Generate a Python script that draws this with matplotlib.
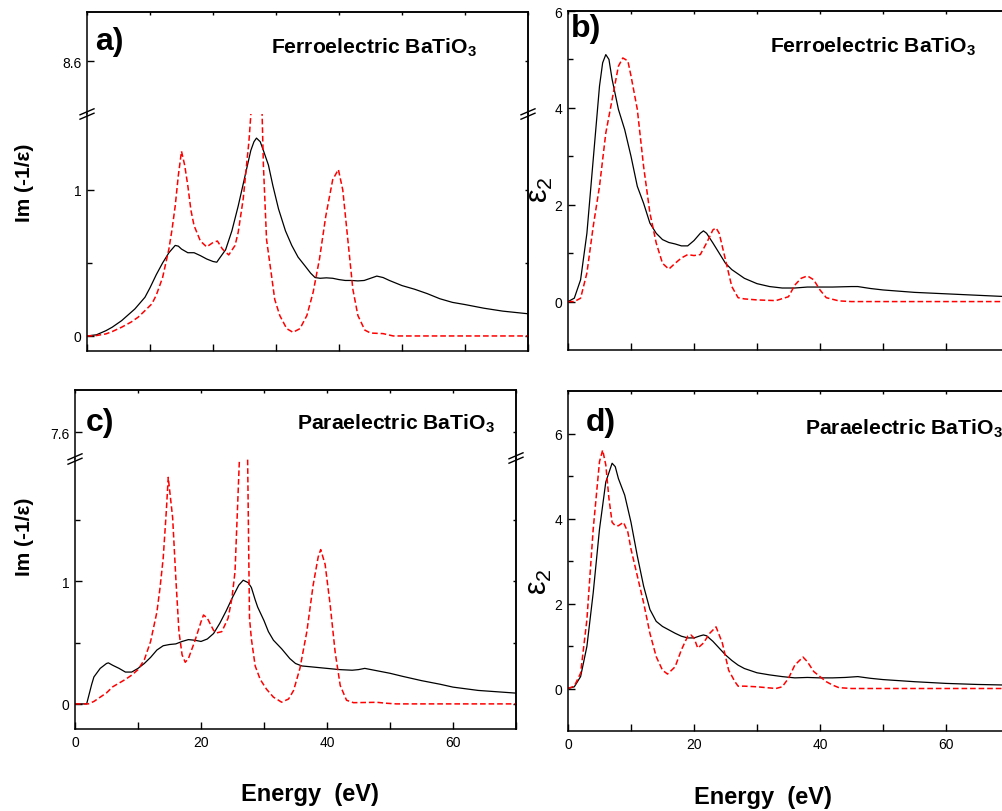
import matplotlib
matplotlib.use("Agg")
import matplotlib.pyplot as plt
from matplotlib.lines import Line2D
from matplotlib.ticker import MultipleLocator, FixedLocator

plt.rcParams['font.family'] = ['Liberation Sans', 'DejaVu Sans']
plt.rcParams['mathtext.fontset'] = 'custom'
plt.rcParams['mathtext.rm'] = 'Liberation Sans'
plt.rcParams['mathtext.bf'] = 'Liberation Sans:bold'
plt.rcParams['mathtext.it'] = 'Liberation Sans:italic'

W, H = 1003, 812

# ---- a) ferroelectric, energy loss Im(-1/eps)
a_blk_e = [0, 1.5, 3, 4, 5.5, 7.6, 9.2, 10, 11, 12, 13, 14, 14.5, 15, 16, 17, 18, 19, 20, 20.6, 21,
           22, 23, 24, 25, 26, 26.5, 26.9, 27.5, 28, 28.8, 29.5, 30.4, 31.5, 32.5, 33.5, 34.6, 35.5,
           36.2, 37, 38, 39, 40, 41, 42, 43, 44, 45, 46, 47, 48, 50, 52, 54, 56, 58, 60, 63, 66, 70]
a_blk_y = [0, 0.008, 0.036, 0.06, 0.105, 0.185, 0.265, 0.33, 0.42, 0.50, 0.57, 0.62, 0.615, 0.595,
           0.57, 0.57, 0.55, 0.527, 0.51, 0.505, 0.53, 0.59, 0.72, 0.89, 1.08, 1.27, 1.33, 1.355, 1.33,
           1.27, 1.17, 1.03, 0.87, 0.72, 0.62, 0.54, 0.48, 0.43, 0.40, 0.395, 0.398, 0.395, 0.386,
           0.38, 0.38, 0.377, 0.38, 0.395, 0.41, 0.40, 0.38, 0.345, 0.32, 0.29, 0.255, 0.23, 0.215,
           0.19, 0.17, 0.152]
a_red_e = [0, 1.5, 3, 4, 5.5, 7, 8.1, 9, 10.3, 11, 12, 13, 13.5, 14, 14.5, 15, 15.5, 16, 16.5, 17,
           18, 19, 20, 20.7, 21.5, 22.5, 23.5, 24, 24.8, 25.3, 25.7, 26.0, 26.4, 27.0, 27.4, 27.8,
           28.0, 28.5, 29.3, 29.8, 30.6, 31.7, 32.7, 33.8, 34.9, 35.9, 36.9, 37.9, 39.0, 39.9, 40.6,
           41.4, 42.2, 43.0, 44.1, 45.0, 47.0, 48.6, 70]
a_red_y = [0, 0.003, 0.014, 0.03, 0.06, 0.095, 0.128, 0.165, 0.22, 0.28, 0.40, 0.595, 0.73, 0.89,
           1.10, 1.265, 1.17, 1.03, 0.86, 0.755, 0.65, 0.61, 0.64, 0.65, 0.595, 0.555, 0.62, 0.71,
           0.94, 1.16, 1.33, 1.51, 1.9, 2.6, 2.2, 1.51, 1.17, 0.66, 0.41, 0.25, 0.14, 0.05, 0.025,
           0.05, 0.14, 0.30, 0.527, 0.82, 1.07, 1.14, 1.0, 0.66, 0.32, 0.14, 0.04, 0.02, 0.016, 0, 0]

# ---- b) ferroelectric, eps2
b_blk_e = [0, 1, 2, 3, 4, 5, 5.5, 6, 6.5, 7, 8, 9, 10, 11, 12, 13, 14, 15, 16, 17, 18, 19, 20, 21,
           21.5, 22, 23, 24, 25, 26, 28, 30, 32, 34, 36, 38, 40, 42, 45, 46, 48, 50, 55, 60, 65, 70]
b_blk_y = [0, 0.07, 0.45, 1.41, 2.93, 4.45, 4.93, 5.1, 5.0, 4.59, 3.97, 3.55, 3.0, 2.38, 2.03, 1.62,
           1.41, 1.28, 1.22, 1.19, 1.15, 1.15, 1.26, 1.41, 1.46, 1.41, 1.21, 1.0, 0.79, 0.66, 0.48,
           0.37, 0.31, 0.28, 0.28, 0.30, 0.30, 0.30, 0.31, 0.31, 0.27, 0.24, 0.19, 0.16, 0.13, 0.10]
b_red_e = [0, 1, 2, 3, 4, 5, 6, 7, 8, 8.7, 9.5, 10, 11, 12, 13, 14, 15, 16, 17, 18, 19, 20, 21, 22,
           23, 23.5, 24, 25, 26, 27, 28, 30, 33, 35, 36, 37, 38, 39, 40, 41, 43, 45, 70]
b_red_y = [0, 0, 0.07, 0.59, 1.55, 2.38, 3.48, 4.17, 4.86, 5.03, 4.97, 4.66, 3.97, 2.79, 1.83, 1.21,
           0.79, 0.67, 0.79, 0.9, 0.97, 0.95, 0.97, 1.21, 1.48, 1.52, 1.41, 0.86, 0.31, 0.08, 0.055,
           0.034, 0.02, 0.10, 0.34, 0.48, 0.53, 0.45, 0.24, 0.08, 0.014, 0, 0]

# ---- c) paraelectric, energy loss
c_blk_e = [0, 1.85, 2.65, 3, 4, 5, 5.3, 6, 7, 8, 9, 10, 11, 12, 13, 14, 15, 16, 17, 18, 19, 20, 21,
           22, 23, 24, 25, 26, 26.7, 27.5, 28, 28.6, 29, 30, 30.7, 31.5, 32.8, 34.1, 35, 36, 38, 40,
           42, 44, 45, 46, 47, 48, 50, 52, 55, 58, 60, 64, 70]
c_blk_y = [0, 0, 0.16, 0.22, 0.29, 0.33, 0.335, 0.315, 0.29, 0.26, 0.26, 0.29, 0.33, 0.38, 0.44,
           0.475, 0.485, 0.49, 0.51, 0.525, 0.52, 0.51, 0.53, 0.575, 0.66, 0.76, 0.87, 0.97, 1.01,
           0.99, 0.95, 0.85, 0.79, 0.68, 0.59, 0.52, 0.45, 0.37, 0.33, 0.31, 0.30, 0.29, 0.28, 0.275,
           0.28, 0.29, 0.28, 0.27, 0.25, 0.225, 0.19, 0.16, 0.137, 0.11, 0.088]
c_red_e = [0, 2.1, 3, 4, 5, 6, 7, 8, 9, 10, 11, 12, 13, 13.5, 14, 14.5, 14.8, 15.5, 16, 16.5, 17,
           17.5, 18, 19, 20, 20.4, 21, 22, 22.5, 23.3, 24.3, 24.9, 25.4, 26.1, 26.6, 27.0, 27.4,
           27.7, 28.0, 28.6, 29.4, 30.4, 31.5, 32.8, 33.9, 34.7, 35.7, 36.8, 37.8, 38.6, 39.0, 39.7,
           40.5, 41.3, 42.1, 43.1, 44.2, 47.9, 49.5, 51, 70]
c_red_y = [0, 0, 0.02, 0.055, 0.09, 0.14, 0.17, 0.2, 0.235, 0.28, 0.36, 0.51, 0.75, 0.95, 1.19,
           1.58, 1.85, 1.52, 1.03, 0.59, 0.40, 0.34, 0.37, 0.51, 0.67, 0.726, 0.70, 0.60, 0.58, 0.59,
           0.70, 0.86, 1.08, 2.0, 3.0, 3.0, 2.0, 0.70, 0.53, 0.31, 0.2, 0.12, 0.055, 0.014, 0.04,
           0.11, 0.29, 0.59, 0.97, 1.2, 1.26, 1.14, 0.81, 0.42, 0.15, 0.03, 0.01, 0.013, 0.005, 0, 0]

# ---- d) paraelectric, eps2
d_blk_e = [0, 1, 2, 3, 4, 5, 6, 7, 7.5, 8, 9, 10, 11, 12, 13, 14, 15, 16, 17, 18, 19, 20, 21, 21.5,
           22, 23, 24, 25, 26, 27, 28, 30, 32, 34, 36, 38, 40, 42, 44, 46, 48, 50, 55, 60, 65, 70]
d_blk_y = [0, 0.04, 0.28, 0.99, 2.25, 3.75, 4.86, 5.3, 5.22, 4.94, 4.55, 3.91, 3.12, 2.41, 1.86,
           1.58, 1.46, 1.38, 1.30, 1.23, 1.19, 1.19, 1.24, 1.26, 1.24, 1.11, 0.95, 0.79, 0.66, 0.55,
           0.47, 0.37, 0.32, 0.28, 0.25, 0.26, 0.25, 0.25, 0.26, 0.28, 0.24, 0.21, 0.16, 0.12, 0.095,
           0.08]
d_red_e = [0, 1, 2, 3, 4, 5, 5.5, 6, 6.5, 7, 7.5, 8, 8.8, 9.5, 10, 11, 12, 13, 14, 15, 15.8, 17, 18,
           19, 19.5, 20, 20.6, 21.5, 22.5, 23.5, 24.5, 25.5, 26.5, 27, 28, 30, 33, 34, 35, 36, 37.3,
           38, 39, 40, 41, 42, 43, 45, 70]
d_red_y = [0, 0.055, 0.36, 1.62, 3.75, 5.34, 5.61, 5.26, 4.47, 3.91, 3.83, 3.83, 3.91, 3.68, 3.28,
           2.65, 2.02, 1.30, 0.75, 0.43, 0.34, 0.51, 0.91, 1.23, 1.26, 1.19, 0.95, 1.07, 1.30, 1.45,
           1.07, 0.43, 0.16, 0.055, 0.055, 0.04, 0, 0.04, 0.24, 0.55, 0.74, 0.63, 0.40, 0.28, 0.16,
           0.08, 0.02, 0, 0]

fig = plt.figure(figsize=(W / 100, H / 100), dpi=100)


def box(x0, y0, x1, y1):
    return [x0 / W, 1 - y1 / H, (x1 - x0) / W, (y1 - y0) / H]


def fpos(x, y):
    return x / W, 1 - y / H


def style(ax, top=True, bottom=True, xlabels=False):
    ax.set_xlim(0, 70)
    ax.xaxis.set_major_locator(MultipleLocator(20))
    ax.xaxis.set_minor_locator(MultipleLocator(10))
    ax.tick_params(which='both', direction='in', top=False, right=False, width=1.0,
                   labelsize=10, pad=4, colors='black')
    ax.tick_params(which='major', length=5)
    ax.tick_params(which='minor', length=3.5)
    ax.tick_params(axis='x', which='minor', length=5)
    ax.tick_params(axis='x', which='both', labelbottom=xlabels and bottom, bottom=bottom)
    for s in ax.spines.values():
        s.set_linewidth(1.1)
    if not top:
        ax.spines['top'].set_visible(False)
    if not bottom:
        ax.spines['bottom'].set_visible(False)
    # short ticks on the opposite spines
    sy = ax.secondary_yaxis('right')
    sy.yaxis.set_major_locator(FixedLocator(list(ax.get_yticks()) +
                                            list(ax.yaxis.get_minorticklocs())))
    sy.tick_params(direction='in', length=2.5, width=1.0, labelright=False)
    sy.spines['right'].set_linewidth(1.1)
    if top:
        sx = ax.secondary_xaxis('top')
        sx.xaxis.set_major_locator(MultipleLocator(10))
        sx.tick_params(direction='in', length=2.5, width=1.0, labeltop=False)
        sx.spines['top'].set_linewidth(1.1)


def plot_pair(ax, be, by, re, ry):
    ax.plot(be, by, color='black', lw=0.9)
    ax.plot(re, ry, color='red', lw=1.1, ls=(0, (3.7, 1.9)))


def brk(x, y):
    for dy in (-2.2, 2.2):
        x0, y0 = fpos(x - 7, y + dy + 3)
        x1, y1 = fpos(x + 7, y + dy - 3)
        fig.add_artist(Line2D([x0, x1], [y0, y1], color='black', lw=1.0))


# ---- panel a (broken axis)
a_top = fig.add_axes(box(87, 13, 528, 115))
a_top.set_ylim(8.237, 8.936)
a_top.yaxis.set_major_locator(FixedLocator([8.6]))
a_top.yaxis.set_minor_locator(FixedLocator([]))
style(a_top, top=True, bottom=False)
a_bot = fig.add_axes(box(87, 115, 528, 352))
plot_pair(a_bot, a_blk_e, a_blk_y, a_red_e, a_red_y)
a_bot.set_ylim(-0.103, 1.52)
a_bot.yaxis.set_major_locator(FixedLocator([0, 1]))
a_bot.yaxis.set_minor_locator(FixedLocator([0.5]))
style(a_bot, top=False, bottom=True, xlabels=False)
brk(87, 115)
brk(528, 115)

# ---- panel b
ax_b = fig.add_axes(box(568, 12, 1009, 351))
plot_pair(ax_b, b_blk_e, b_blk_y, b_red_e, b_red_y)
ax_b.set_ylim(-1, 6)
ax_b.yaxis.set_major_locator(MultipleLocator(2))
ax_b.yaxis.set_minor_locator(FixedLocator([1, 3, 5]))
style(ax_b, xlabels=False)

# ---- panel c (broken axis)
c_top = fig.add_axes(box(75, 391, 516, 460))
c_top.set_ylim(7.379, 7.944)
c_top.yaxis.set_major_locator(FixedLocator([7.6]))
c_top.yaxis.set_minor_locator(FixedLocator([]))
style(c_top, top=True, bottom=False)
c_bot = fig.add_axes(box(75, 460, 516, 730))
plot_pair(c_bot, c_blk_e, c_blk_y, c_red_e, c_red_y)
c_bot.set_ylim(-0.205, 2.0)
c_bot.yaxis.set_major_locator(FixedLocator([0, 1]))
c_bot.yaxis.set_minor_locator(FixedLocator([0.5, 1.5]))
style(c_bot, top=False, bottom=True, xlabels=True)
brk(75, 460)
brk(516, 459)

# ---- panel d
ax_d = fig.add_axes(box(568, 392, 1009, 732))
plot_pair(ax_d, d_blk_e, d_blk_y, d_red_e, d_red_y)
ax_d.set_ylim(-1, 7)
ax_d.yaxis.set_major_locator(MultipleLocator(2))
ax_d.yaxis.set_minor_locator(FixedLocator([1, 3, 5]))
style(ax_d, xlabels=True)

# ---- texts
for lab, x, y in [('a)', 95, 50), ('b)', 571, 37), ('c)', 86, 431), ('d)', 586, 431)]:
    fig.text(*fpos(x, y), lab, fontsize=23, fontweight='bold', va='baseline')

for lab, x, y in [(r'$\mathbf{Ferroelectric\ BaTiO_3}$', 271, 54),
                  (r'$\mathbf{Ferroelectric\ BaTiO_3}$', 770, 53),
                  (r'$\mathbf{Paraelectric\ BaTiO_3}$', 297, 430),
                  (r'$\mathbf{Paraelectric\ BaTiO_3}$', 805, 435)]:
    fig.text(*fpos(x, y), lab, fontsize=15.2, va='baseline')

for x, y in [(24, 183), (25, 537)]:
    fig.text(*fpos(x, y), 'Im (-1/ε)', fontsize=15, fontweight='bold', rotation=90,
             ha='center', va='center')

for x, y in [(540, 190), (539, 582)]:
    fig.text(*fpos(x, y), r'$\mathrm{ε}_2$', fontsize=22, rotation=90, ha='center', va='center')

fig.text(*fpos(310, 801), 'Energy  (eV)', fontsize=17, fontweight='bold', ha='center', va='baseline')
fig.text(*fpos(763, 804), 'Energy  (eV)', fontsize=17, fontweight='bold', ha='center', va='baseline')

fig.savefig('out.png', dpi=100)
